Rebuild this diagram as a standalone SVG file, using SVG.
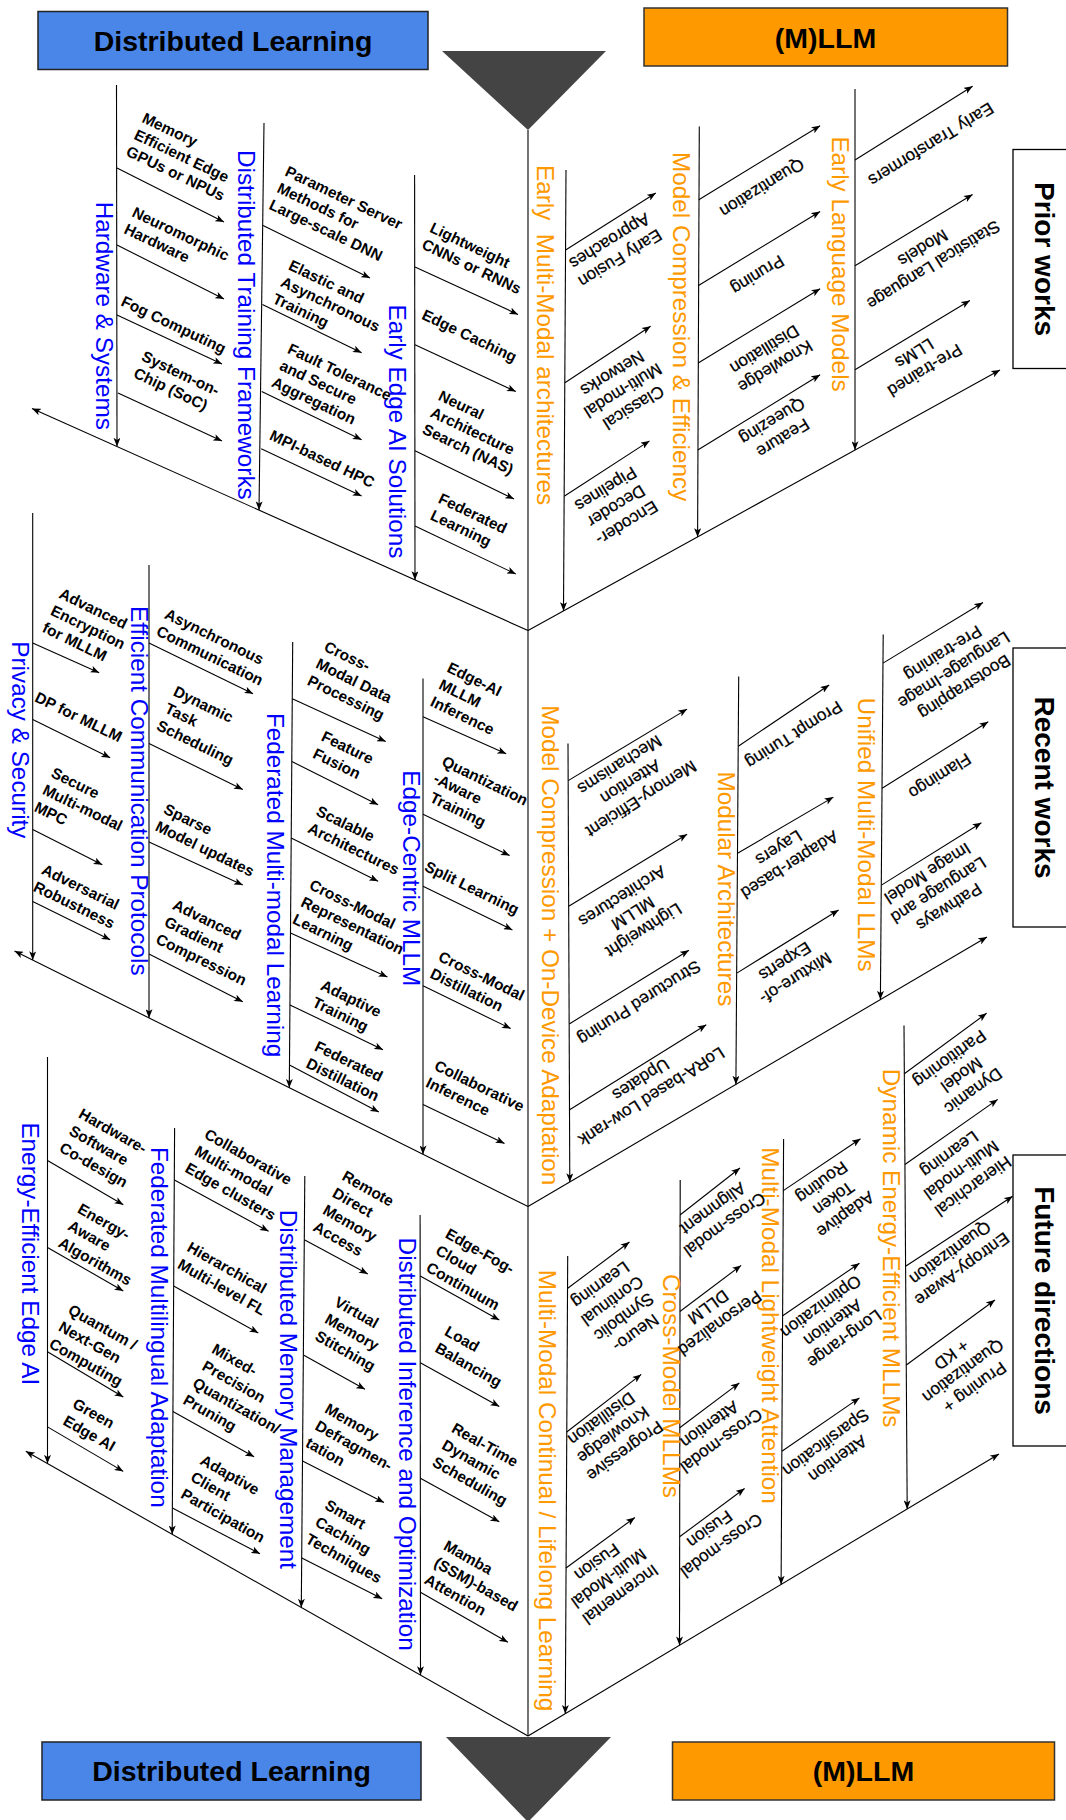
<svg xmlns="http://www.w3.org/2000/svg" width="1066" height="1820" viewBox="0 0 1066 1820">
<defs>
<marker id="ah" viewBox="0 0 10 8" refX="10" refY="4" markerWidth="9" markerHeight="7" markerUnits="userSpaceOnUse" orient="auto"><path d="M0,0 L10,4 L0,8 L2.5,4 z" fill="#000"/></marker>
<style>
.c line,.c path{stroke:#000;stroke-width:1.1;fill:none}
.a{marker-end:url(#ah)}
.lt{font-family:"Liberation Sans",Arial,sans-serif;font-weight:bold;font-size:15.4px;fill:#000}
.rt{font-family:"Liberation Sans",Arial,sans-serif;font-size:17px;fill:#000;text-anchor:middle;stroke:#000;stroke-width:0.25}
.bl{font-family:"Liberation Sans",Arial,sans-serif;font-size:24.3px;fill:#0000FF}
.or{font-family:"Liberation Sans",Arial,sans-serif;font-size:24.3px;fill:#FF9900}
.ttl{font-family:"Liberation Sans",Arial,sans-serif;font-weight:bold;font-size:28.5px;fill:#000;text-anchor:middle}
.side{font-family:"Liberation Sans",Arial,sans-serif;font-weight:bold;font-size:28px;fill:#000;text-anchor:middle}
.bbox{fill:#4A86E8;stroke:#222;stroke-width:1.5}
.obox{fill:#FF9900;stroke:#333;stroke-width:1.5}
.sbox{fill:#fff;stroke:#000;stroke-width:1.3}
.tri{fill:#444}
</style>
</defs>
<rect width="1066" height="1820" fill="#fff"/>

<g id="top-dl"><rect class="bbox" x="38" y="11.5" width="390" height="58"/><text class="ttl" x="233" y="51">Distributed Learning</text></g>
<g id="top-llm"><rect class="obox" x="644" y="8" width="363.5" height="58"/><text class="ttl" x="825.5" y="47.5">(M)LLM</text></g>
<polygon id="top-tri" class="tri" points="442,51 606,51 528,130"/>
<g id="bot-dl"><rect class="bbox" x="42" y="1742" width="379" height="58"/><text class="ttl" x="231.5" y="1781">Distributed Learning</text></g>
<g id="bot-llm"><rect class="obox" x="672.5" y="1742" width="382" height="58"/><text class="ttl" x="863.5" y="1781">(M)LLM</text></g>
<polygon id="bot-tri" class="tri" points="446,1737 611,1737 528,1822"/>

<g id="prior"><rect class="sbox" x="1013" y="149.5" width="70" height="219"/><text class="side" transform="translate(1034.5,259) rotate(90)">Prior works</text></g>
<g id="recent"><rect class="sbox" x="1013" y="648" width="70" height="279"/><text class="side" transform="translate(1034.5,787.5) rotate(90)">Recent works</text></g>
<g id="future"><rect class="sbox" x="1013" y="1155" width="70" height="291"/><text class="side" transform="translate(1034.5,1300.5) rotate(90)">Future directions</text></g>

<g id="connectors" class="c">
<line x1="528" y1="130" x2="528" y2="1736"/>
<line class="a" x1="528" y1="630.5" x2="32" y2="408.5"/>
<line class="a" x1="528" y1="630.5" x2="1000" y2="370"/>
<line class="a" x1="528" y1="1206.5" x2="14.5" y2="951"/>
<line class="a" x1="528" y1="1206.5" x2="987" y2="937"/>
<line class="a" x1="528" y1="1736" x2="25.8" y2="1451.3"/>
<line class="a" x1="528" y1="1736" x2="999" y2="1454"/>
<line class="a" x1="116.5" y1="85" x2="117" y2="446.5"/>
<line class="a" x1="264" y1="123" x2="259" y2="510.1"/>
<line class="a" x1="414.6" y1="175" x2="415" y2="579.9"/>
<line class="a" x1="32.7" y1="513" x2="32.7" y2="960"/>
<line class="a" x1="149" y1="565" x2="149" y2="1017.9"/>
<line class="a" x1="292.7" y1="642" x2="289.3" y2="1087.7"/>
<line class="a" x1="423" y1="678.5" x2="423" y2="1154.3"/>
<line class="a" x1="47.5" y1="1057" x2="47.5" y2="1463.6"/>
<line class="a" x1="174.6" y1="1128" x2="172.2" y2="1534.3"/>
<line class="a" x1="304.8" y1="1176" x2="301.3" y2="1607.5"/>
<line class="a" x1="420.1" y1="1215" x2="420.5" y2="1675"/>
<line class="a" x1="566" y1="170" x2="563.5" y2="610.9"/>
<line class="a" x1="699.3" y1="126.5" x2="697.6" y2="536.9"/>
<line class="a" x1="855" y1="89" x2="855" y2="450"/>
<line class="a" x1="568" y1="743.5" x2="569.8" y2="1182"/>
<line class="a" x1="738.7" y1="676.5" x2="735.9" y2="1084.5"/>
<line class="a" x1="883.2" y1="634.4" x2="880.4" y2="999.6"/>
<line class="a" x1="567.7" y1="1256" x2="565.3" y2="1713.7"/>
<line class="a" x1="680.2" y1="1180" x2="679.5" y2="1645.3"/>
<line class="a" x1="783.6" y1="1139" x2="781.1" y2="1584.5"/>
<line class="a" x1="904" y1="1025.6" x2="907.2" y2="1509"/>
<line class="a" x1="117" y1="168" x2="224" y2="222"/>
<line class="a" x1="117" y1="245" x2="224" y2="299"/>
<line class="a" x1="117" y1="315" x2="222" y2="364"/>
<line class="a" x1="118" y1="393" x2="222" y2="441"/>
<line class="a" x1="263" y1="225.4" x2="370" y2="278"/>
<line class="a" x1="262.4" y1="304.5" x2="361.6" y2="352.7"/>
<line class="a" x1="261.7" y1="391.5" x2="361.6" y2="439.7"/>
<line class="a" x1="261.2" y1="448.8" x2="361.6" y2="496"/>
<line class="a" x1="415" y1="267" x2="518" y2="314.4"/>
<line class="a" x1="415" y1="344.8" x2="515.8" y2="391.5"/>
<line class="a" x1="415" y1="450.8" x2="514" y2="499"/>
<line class="a" x1="415" y1="526" x2="515.8" y2="574"/>
<line class="a" x1="32.7" y1="642.9" x2="99.2" y2="672.7"/>
<line class="a" x1="32.7" y1="719.4" x2="110.2" y2="757.7"/>
<line class="a" x1="32.7" y1="829.6" x2="102.3" y2="864.8"/>
<line class="a" x1="32.7" y1="901.6" x2="110.2" y2="939.8"/>
<line class="a" x1="149" y1="642.9" x2="253.1" y2="693.8"/>
<line class="a" x1="149" y1="743.5" x2="242.8" y2="789.4"/>
<line class="a" x1="149" y1="841.9" x2="242.8" y2="885.1"/>
<line class="a" x1="149" y1="954" x2="242.8" y2="1001.8"/>
<line class="a" x1="292.3" y1="698.7" x2="385.7" y2="741.6"/>
<line class="a" x1="291.8" y1="761.5" x2="378.1" y2="804.7"/>
<line class="a" x1="291.2" y1="838" x2="378.1" y2="881.3"/>
<line class="a" x1="290.5" y1="933" x2="387.4" y2="977"/>
<line class="a" x1="290" y1="1004.9" x2="383" y2="1049.7"/>
<line class="a" x1="289.5" y1="1065" x2="378.8" y2="1112"/>
<line class="a" x1="423" y1="716.7" x2="506.2" y2="753.8"/>
<line class="a" x1="423" y1="814.3" x2="509.6" y2="855.6"/>
<line class="a" x1="423" y1="886.3" x2="512.4" y2="929.9"/>
<line class="a" x1="423" y1="985.8" x2="510.7" y2="1028.6"/>
<line class="a" x1="423" y1="1104.4" x2="504.5" y2="1143.4"/>
<line class="a" x1="47.5" y1="1160.6" x2="123.3" y2="1204.7"/>
<line class="a" x1="47.5" y1="1247.4" x2="123.3" y2="1291"/>
<line class="a" x1="47.5" y1="1351.7" x2="123.3" y2="1397"/>
<line class="a" x1="47.5" y1="1426.9" x2="123.3" y2="1471.4"/>
<line class="a" x1="174.4" y1="1180" x2="268.6" y2="1231.2"/>
<line class="a" x1="173.6" y1="1285.9" x2="258.3" y2="1332.9"/>
<line class="a" x1="172.9" y1="1411.5" x2="254.1" y2="1456.8"/>
<line class="a" x1="172.4" y1="1508.1" x2="260" y2="1553.8"/>
<line class="a" x1="304.3" y1="1239.7" x2="367.8" y2="1273.9"/>
<line class="a" x1="303.4" y1="1355.1" x2="365" y2="1389.3"/>
<line class="a" x1="302.5" y1="1461.1" x2="384" y2="1502.6"/>
<line class="a" x1="301.8" y1="1558.1" x2="382.2" y2="1598.7"/>
<line class="a" x1="420.2" y1="1276.1" x2="499.3" y2="1320.1"/>
<line class="a" x1="420.3" y1="1362.8" x2="499.3" y2="1406.4"/>
<line class="a" x1="420.4" y1="1478.2" x2="499.3" y2="1521.8"/>
<line class="a" x1="420.4" y1="1592.3" x2="507.9" y2="1642.3"/>
<line class="a" x1="565.6" y1="250" x2="655.8" y2="193"/>
<line class="a" x1="564.9" y1="382.8" x2="650.6" y2="326.2"/>
<line class="a" x1="564.2" y1="496.2" x2="649.5" y2="440.9"/>
<line class="a" x1="698.8" y1="199.7" x2="820.1" y2="125.7"/>
<line class="a" x1="698.5" y1="285.5" x2="820.1" y2="211.5"/>
<line class="a" x1="698.2" y1="363" x2="820.1" y2="288.7"/>
<line class="a" x1="697.8" y1="450" x2="820.1" y2="374.8"/>
<line class="a" x1="855" y1="160" x2="972.6" y2="86.2"/>
<line class="a" x1="855" y1="265.7" x2="972.6" y2="194.5"/>
<line class="a" x1="855" y1="369.7" x2="969.9" y2="300.5"/>
<line class="a" x1="568.2" y1="780.6" x2="687.1" y2="709.1"/>
<line class="a" x1="568.7" y1="906.2" x2="687.1" y2="834.2"/>
<line class="a" x1="569.2" y1="1024" x2="688.9" y2="950.2"/>
<line class="a" x1="569.6" y1="1109.8" x2="706.3" y2="1024.8"/>
<line class="a" x1="738.3" y1="746.2" x2="829.2" y2="685"/>
<line class="a" x1="737.6" y1="853.3" x2="833.4" y2="797.1"/>
<line class="a" x1="736.8" y1="973.1" x2="838.6" y2="910"/>
<line class="a" x1="883" y1="663.1" x2="983" y2="602.5"/>
<line class="a" x1="882.1" y1="788.3" x2="988.3" y2="721.7"/>
<line class="a" x1="881.4" y1="885.1" x2="981.4" y2="822.7"/>
<line class="a" x1="567.4" y1="1288.5" x2="629.5" y2="1242"/>
<line class="a" x1="566.7" y1="1432" x2="641.2" y2="1374.4"/>
<line class="a" x1="566" y1="1568" x2="634.9" y2="1517.5"/>
<line class="a" x1="680" y1="1215" x2="740" y2="1168"/>
<line class="a" x1="679.9" y1="1311.5" x2="741.1" y2="1265.4"/>
<line class="a" x1="679.7" y1="1427.8" x2="739.4" y2="1382.9"/>
<line class="a" x1="679.6" y1="1536.8" x2="744.6" y2="1488.5"/>
<line class="a" x1="783.3" y1="1190.6" x2="860.5" y2="1138.8"/>
<line class="a" x1="782.7" y1="1315.8" x2="859.5" y2="1263.2"/>
<line class="a" x1="781.9" y1="1451.3" x2="859.5" y2="1397.9"/>
<line class="a" x1="904.3" y1="1073.8" x2="986.6" y2="1013.3"/>
<line class="a" x1="904.9" y1="1164.5" x2="997.7" y2="1099.4"/>
<line class="a" x1="905.6" y1="1266.2" x2="1012.7" y2="1196.2"/>
<line class="a" x1="906.3" y1="1365" x2="995" y2="1300"/>
</g>

<g id="cat-hw"><text class="bl" transform="translate(96.1,201.7) rotate(90)">Hardware &amp; Systems</text></g>
<g id="cat-dtf"><text class="bl" transform="translate(238,150) rotate(90)">Distributed Training Frameworks</text></g>
<g id="cat-eeai"><text class="bl" transform="translate(388.8,304.5) rotate(90)">Early Edge AI Solutions</text></g>
<g id="cat-ps"><text class="bl" transform="translate(11.8,641.3) rotate(90)">Privacy &amp; Security</text></g>
<g id="cat-ecp"><text class="bl" transform="translate(131.3,606) rotate(90)">Efficient Communication Protocols</text></g>
<g id="cat-fml"><text class="bl" transform="translate(266.5,712.9) rotate(90)">Federated Multi-modal Learning</text></g>
<g id="cat-ecm"><text class="bl" transform="translate(403.3,770.3) rotate(90)">Edge-Centric MLLM</text></g>
<g id="cat-eeea"><text class="bl" transform="translate(22.1,1122.4) rotate(90)">Energy-Efficient Edge AI</text></g>
<g id="cat-fma"><text class="bl" transform="translate(151.2,1147) rotate(90)">Federated Multilingual Adaptation</text></g>
<g id="cat-dmm"><text class="bl" transform="translate(280.4,1209.8) rotate(90)">Distributed Memory Management</text></g>
<g id="cat-dio"><text class="bl" transform="translate(399.2,1237.6) rotate(90)">Distributed Inference and Optimization</text></g>

<g id="cat-emm"><text class="or" transform="translate(537.3,165) rotate(90)">Early &#160;Multi-Modal architectures</text></g>
<g id="cat-mce"><text class="or" transform="translate(673.1,152) rotate(90)">Model Compression &amp; Efficiency</text></g>
<g id="cat-elm"><text class="or" transform="translate(831.5,136.4) rotate(90)">Early Language Models</text></g>
<g id="cat-mcoda"><text class="or" transform="translate(541.5,705.2) rotate(90)">Model Compression + On-Device Adaptation</text></g>
<g id="cat-ma"><text class="or" transform="translate(717.7,771.4) rotate(90)">Modular Architectures</text></g>
<g id="cat-umm"><text class="or" transform="translate(858.3,697.6) rotate(90)">Unified Multi-Modal LLMs</text></g>
<g id="cat-mmcl"><text class="or" transform="translate(539.1,1269.7) rotate(90)">Multi-Modal Continual / Lifelong Learning</text></g>
<g id="cat-cmm"><text class="or" transform="translate(662.7,1273.9) rotate(90)">Cross-Model MLLMs</text></g>
<g id="cat-mmla"><text class="or" transform="translate(761.9,1147.3) rotate(90)">Multi-Modal Lightweight Attention</text></g>
<g id="cat-deem"><text class="or" transform="translate(882.7,1068.8) rotate(90)">Dynamic Energy-Efficient MLLMs</text></g>

<g id="s1l">
<text class="lt" transform="translate(141,121.7) rotate(25.5)"><tspan x="0" y="0">Memory</tspan><tspan x="0" y="18.5">Efficient Edge</tspan><tspan x="0" y="37">GPUs or NPUs</tspan></text>
<text class="lt" transform="translate(131,216) rotate(25.5)"><tspan x="0" y="0">Neuromorphic</tspan><tspan x="0" y="18.5">Hardware</tspan></text>
<text class="lt" transform="translate(120,305) rotate(25.5)">Fog Computing</text>
<text class="lt" transform="translate(140.5,360) rotate(25.5)"><tspan x="0" y="0">System-on-</tspan><tspan x="0" y="18.5">Chip (SoC)</tspan></text>
<text class="lt" transform="translate(284,175) rotate(25.5)"><tspan x="0" y="0">Parameter Server</tspan><tspan x="0" y="18.5">Methods for</tspan><tspan x="0" y="37">Large-scale DNN</tspan></text>
<text class="lt" transform="translate(287.5,269) rotate(25.5)"><tspan x="0" y="0">Elastic and</tspan><tspan x="0" y="18.5">Asynchronous</tspan><tspan x="0" y="37">Training</tspan></text>
<text class="lt" transform="translate(286.5,352.5) rotate(25.5)"><tspan x="0" y="0">Fault Tolerance</tspan><tspan x="0" y="18.5">and Secure</tspan><tspan x="0" y="37">Aggregation</tspan></text>
<text class="lt" transform="translate(268.6,439) rotate(25.5)">MPI-based HPC</text>
<text class="lt" transform="translate(428.7,231.4) rotate(25.5)"><tspan x="0" y="0">Lightweight</tspan><tspan x="0" y="18.5">CNNs or RNNs</tspan></text>
<text class="lt" transform="translate(420.8,318.4) rotate(25.5)">Edge Caching</text>
<text class="lt" transform="translate(437.3,399.5) rotate(25.5)"><tspan x="0" y="0">Neural</tspan><tspan x="0" y="18.5">Architecture</tspan><tspan x="0" y="37">Search (NAS)</tspan></text>
<text class="lt" transform="translate(437.3,502.3) rotate(25.5)"><tspan x="0" y="0">Federated</tspan><tspan x="0" y="18.5">Learning</tspan></text>
</g>

<g id="s2l">
<text class="lt" transform="translate(57.9,597.2) rotate(26)"><tspan x="0" y="0">Advanced</tspan><tspan x="0" y="19">Encryption</tspan><tspan x="0" y="38">for MLLM</tspan></text>
<text class="lt" transform="translate(33.7,701) rotate(26)">DP for MLLM</text>
<text class="lt" transform="translate(49.9,776.5) rotate(26)"><tspan x="0" y="0">Secure</tspan><tspan x="0" y="19">Multi-modal</tspan><tspan x="0" y="38">MPC</tspan></text>
<text class="lt" transform="translate(40.6,873.3) rotate(26)"><tspan x="0" y="0">Adversarial</tspan><tspan x="0" y="19">Robustness</tspan></text>
<text class="lt" transform="translate(163.6,617.7) rotate(26)"><tspan x="0" y="0">Asynchronous</tspan><tspan x="0" y="19">Communication</tspan></text>
<text class="lt" transform="translate(172.2,695) rotate(26)"><tspan x="0" y="0">Dynamic</tspan><tspan x="0" y="19">Task</tspan><tspan x="0" y="38">Scheduling</tspan></text>
<text class="lt" transform="translate(162.5,812.8) rotate(26)"><tspan x="0" y="0">Sparse</tspan><tspan x="0" y="19">Model updates</tspan></text>
<text class="lt" transform="translate(171.5,908.5) rotate(26)"><tspan x="0" y="0">Advanced</tspan><tspan x="0" y="19">Gradient</tspan><tspan x="0" y="38">Compression</tspan></text>
<text class="lt" transform="translate(323,650.2) rotate(26)"><tspan x="0" y="0">Cross-</tspan><tspan x="0" y="19">Modal Data</tspan><tspan x="0" y="38">Processing</tspan></text>
<text class="lt" transform="translate(320.2,740.1) rotate(26)"><tspan x="0" y="0">Feature</tspan><tspan x="0" y="19">Fusion</tspan></text>
<text class="lt" transform="translate(315,814.7) rotate(26)"><tspan x="0" y="0">Scalable</tspan><tspan x="0" y="19">Architectures</tspan></text>
<text class="lt" transform="translate(308.2,888.6) rotate(26)"><tspan x="0" y="0">Cross-Modal</tspan><tspan x="0" y="19">Representation</tspan><tspan x="0" y="38">Learning</tspan></text>
<text class="lt" transform="translate(319.6,988.9) rotate(26)"><tspan x="0" y="0">Adaptive</tspan><tspan x="0" y="19">Training</tspan></text>
<text class="lt" transform="translate(313.4,1050) rotate(26)"><tspan x="0" y="0">Federated</tspan><tspan x="0" y="19">Distillation</tspan></text>
<text class="lt" transform="translate(446,671.2) rotate(26)"><tspan x="0" y="0">Edge-AI</tspan><tspan x="0" y="19">MLLM</tspan><tspan x="0" y="38">Inference</tspan></text>
<text class="lt" transform="translate(440.8,765) rotate(26)"><tspan x="0" y="0">Quantization</tspan><tspan x="0" y="19">-Aware</tspan><tspan x="5" y="38">Training</tspan></text>
<text class="lt" transform="translate(423.6,870.2) rotate(26)">Split Learning</text>
<text class="lt" transform="translate(437.3,960.2) rotate(26)"><tspan x="0" y="0">Cross-Modal</tspan><tspan x="0" y="19">Distillation</tspan></text>
<text class="lt" transform="translate(433.2,1069.2) rotate(26)"><tspan x="0" y="0">Collaborative</tspan><tspan x="0" y="19">Inference</tspan></text>
</g>

<g id="s3l">
<text class="lt" transform="translate(77.5,1117) rotate(29.5)"><tspan x="0" y="0">Hardware-</tspan><tspan x="0" y="19.5">Software</tspan><tspan x="0" y="39">Co-design</tspan></text>
<text class="lt" transform="translate(76.4,1212.1) rotate(29.5)"><tspan x="0" y="0">Energy-</tspan><tspan x="0" y="19.5">Aware</tspan><tspan x="0" y="39">Algorithms</tspan></text>
<text class="lt" transform="translate(67.1,1313) rotate(29.5)"><tspan x="0" y="0">Quantum /</tspan><tspan x="0" y="19.5">Next-Gen</tspan><tspan x="0" y="39">Computing</tspan></text>
<text class="lt" transform="translate(71.6,1407) rotate(29.5)"><tspan x="0" y="0">Green</tspan><tspan x="0" y="19.5">Edge AI</tspan></text>
<text class="lt" transform="translate(203.2,1137.4) rotate(29.5)"><tspan x="0" y="0">Collaborative</tspan><tspan x="0" y="19.5">Multi-modal</tspan><tspan x="0" y="39">Edge clusters</tspan></text>
<text class="lt" transform="translate(186,1250.6) rotate(29.5)"><tspan x="0" y="0">Hierarchical</tspan><tspan x="0" y="19.5">Multi-level FL</tspan></text>
<text class="lt" transform="translate(210.7,1352.3) rotate(29.5)"><tspan x="0" y="0">Mixed-</tspan><tspan x="0" y="19.5">Precision</tspan><tspan x="0" y="39">Quantization/</tspan><tspan x="0" y="58.5">Pruning</tspan></text>
<text class="lt" transform="translate(199,1463.4) rotate(29.5)"><tspan x="0" y="0">Adaptive</tspan><tspan x="0" y="19.5">Client</tspan><tspan x="0" y="39">Participation</tspan></text>
<text class="lt" transform="translate(340.9,1179.2) rotate(29.5)"><tspan x="0" y="0">Remote</tspan><tspan x="0" y="19.5">Direct</tspan><tspan x="0" y="39">Memory</tspan><tspan x="0" y="58.5">Access</tspan></text>
<text class="lt" transform="translate(333.3,1305.3) rotate(29.5)"><tspan x="0" y="0">Virtual</tspan><tspan x="0" y="19.5">Memory</tspan><tspan x="0" y="39">Stitching</tspan></text>
<text class="lt" transform="translate(323.7,1412.1) rotate(29.5)"><tspan x="0" y="0">Memory</tspan><tspan x="0" y="19.5">Defragmen-</tspan><tspan x="0" y="39">tation</tspan></text>
<text class="lt" transform="translate(323.7,1508.3) rotate(29.5)"><tspan x="0" y="0">Smart</tspan><tspan x="0" y="19.5">Caching</tspan><tspan x="0" y="39">Techniques</tspan></text>
<text class="lt" transform="translate(444.2,1236.9) rotate(29.5)"><tspan x="0" y="0">Edge-Fog-</tspan><tspan x="0" y="19.5">Cloud</tspan><tspan x="0" y="39">Continuum</tspan></text>
<text class="lt" transform="translate(443.5,1334.4) rotate(29.5)"><tspan x="0" y="0">Load</tspan><tspan x="0" y="19.5">Balancing</tspan></text>
<text class="lt" transform="translate(450.4,1431.4) rotate(29.5)"><tspan x="0" y="0">Real-Time</tspan><tspan x="0" y="19.5">Dynamic</tspan><tspan x="0" y="39">Scheduling</tspan></text>
<text class="lt" transform="translate(442.5,1548.9) rotate(29.5)"><tspan x="0" y="0">Mamba</tspan><tspan x="0" y="19.5">(SSM)-based</tspan><tspan x="0" y="39">Attention</tspan></text>
</g>

<g id="s1r">
<text class="rt" transform="translate(611.9,244.8) rotate(148.2)"><tspan x="0" y="-10">Early Fusion</tspan><tspan x="0" y="10">Approaches</tspan></text>
<text class="rt" transform="translate(620,385.6) rotate(148.2)"><tspan x="0" y="-20">Classical</tspan><tspan x="0" y="0">Multi-modal</tspan><tspan x="0" y="20">Networks</tspan></text>
<text class="rt" transform="translate(613.3,501.2) rotate(148.2)"><tspan x="0" y="-20">Encoder-</tspan><tspan x="0" y="0">Decoder</tspan><tspan x="0" y="20">Pipelines</tspan></text>
<text class="rt" transform="translate(759,183) rotate(148.2)">Quantization</text>
<text class="rt" transform="translate(754.6,270) rotate(148.2)">Pruning</text>
<text class="rt" transform="translate(766.9,353.1) rotate(148.2)"><tspan x="0" y="-10">Knowledge</tspan><tspan x="0" y="10">Distillation</tspan></text>
<text class="rt" transform="translate(774.5,424.7) rotate(148.2)"><tspan x="0" y="-10">Feature</tspan><tspan x="0" y="10">Queezing</tspan></text>
<text class="rt" transform="translate(928,139.5) rotate(148.2)">Early Transformers</text>
<text class="rt" transform="translate(925.2,251.6) rotate(148.2)"><tspan x="0" y="-10">Statistical Language</tspan><tspan x="0" y="10">Models</tspan></text>
<text class="rt" transform="translate(916.6,357) rotate(148.2)"><tspan x="0" y="-10">Pre-trained</tspan><tspan x="0" y="10">LLMs</tspan></text>
</g>

<g id="s2r">
<text class="rt" transform="translate(627.4,777) rotate(147.5)"><tspan x="0" y="-20">Memory-Efficient</tspan><tspan x="0" y="0">Attention</tspan><tspan x="0" y="20">Mechanisms</tspan></text>
<text class="rt" transform="translate(629.9,908.4) rotate(147.5)"><tspan x="0" y="-20">Lightweight</tspan><tspan x="0" y="0">MLLM</tspan><tspan x="0" y="20">Architectures</tspan></text>
<text class="rt" transform="translate(636.2,997.9) rotate(147.5)">Structured Pruning</text>
<text class="rt" transform="translate(643.1,1083.2) rotate(147.5)"><tspan x="0" y="-10">LoRA-based Low-rank</tspan><tspan x="0" y="10">Updates</tspan></text>
<text class="rt" transform="translate(791,730) rotate(147.5)">Prompt Tuning</text>
<text class="rt" transform="translate(781.2,851.5) rotate(147.5)"><tspan x="0" y="-10">Adapter-based</tspan><tspan x="0" y="10">Layers</tspan></text>
<text class="rt" transform="translate(787.2,965) rotate(147.5)"><tspan x="0" y="-10">Mixture-of-</tspan><tspan x="0" y="10">Experts</tspan></text>
<text class="rt" transform="translate(950.8,665.3) rotate(147.5)"><tspan x="0" y="-20">Bootstrapping</tspan><tspan x="0" y="0">Language-Image</tspan><tspan x="0" y="20">Pre-training</tspan></text>
<text class="rt" transform="translate(936.7,771.3) rotate(147.5)">Flamingo</text>
<text class="rt" transform="translate(935.3,885.3) rotate(147.5)"><tspan x="0" y="-20">Pathways</tspan><tspan x="0" y="0">Language and</tspan><tspan x="0" y="20">Image Model</tspan></text>
</g>

<g id="s3r">
<text class="rt" transform="translate(614.8,1304.3) rotate(144)"><tspan x="0" y="-30">Neuro-</tspan><tspan x="0" y="-10">Symbolic</tspan><tspan x="0" y="10">Continual</tspan><tspan x="0" y="30">Learning</tspan></text>
<text class="rt" transform="translate(609.8,1430.3) rotate(144)"><tspan x="0" y="-20">Progressive</tspan><tspan x="0" y="0">Knowledge</tspan><tspan x="0" y="20">Distillation</tspan></text>
<text class="rt" transform="translate(605.4,1573.6) rotate(144)"><tspan x="0" y="-20">Incremental</tspan><tspan x="0" y="0">Multi-Modal</tspan><tspan x="0" y="20">Fusion</tspan></text>
<text class="rt" transform="translate(715.5,1211.8) rotate(144)"><tspan x="0" y="-10">Cross-modal</tspan><tspan x="0" y="10">Alignment</tspan></text>
<text class="rt" transform="translate(710.7,1310.5) rotate(144)"><tspan x="0" y="-10">Personalized</tspan><tspan x="0" y="10">DLLM</tspan></text>
<text class="rt" transform="translate(712.1,1428) rotate(144)"><tspan x="0" y="-10">Cross-modal</tspan><tspan x="0" y="10">Attention</tspan></text>
<text class="rt" transform="translate(712.2,1532.7) rotate(144)"><tspan x="0" y="-10">Cross-modal</tspan><tspan x="0" y="10">Fusion</tspan></text>
<text class="rt" transform="translate(830.3,1193.8) rotate(144)"><tspan x="0" y="-20">Adaptive</tspan><tspan x="0" y="0">Token</tspan><tspan x="0" y="20">Routing</tspan></text>
<text class="rt" transform="translate(829.4,1318.1) rotate(144)"><tspan x="0" y="-20">Long-range</tspan><tspan x="0" y="0">Attention</tspan><tspan x="0" y="20">Optimization</tspan></text>
<text class="rt" transform="translate(828.4,1446.1) rotate(144)"><tspan x="0" y="-10">Attention</tspan><tspan x="0" y="10">Sparsification</tspan></text>
<text class="rt" transform="translate(958.2,1070.2) rotate(144)"><tspan x="0" y="-20">Dynamic</tspan><tspan x="0" y="0">Model</tspan><tspan x="0" y="20">Partitioning</tspan></text>
<text class="rt" transform="translate(958,1165.5) rotate(144)"><tspan x="0" y="-20">Hierarchical</tspan><tspan x="0" y="0">Multi-modal</tspan><tspan x="0" y="20">Learning</tspan></text>
<text class="rt" transform="translate(952.8,1256.4) rotate(144)"><tspan x="0" y="-10">Entropy-Aware</tspan><tspan x="0" y="10">Quantization</tspan></text>
<text class="rt" transform="translate(959.7,1366.4) rotate(144)"><tspan x="0" y="-20">Pruning +</tspan><tspan x="0" y="0">Quantization</tspan><tspan x="0" y="20">+ KD</tspan></text>
</g>
</svg>
